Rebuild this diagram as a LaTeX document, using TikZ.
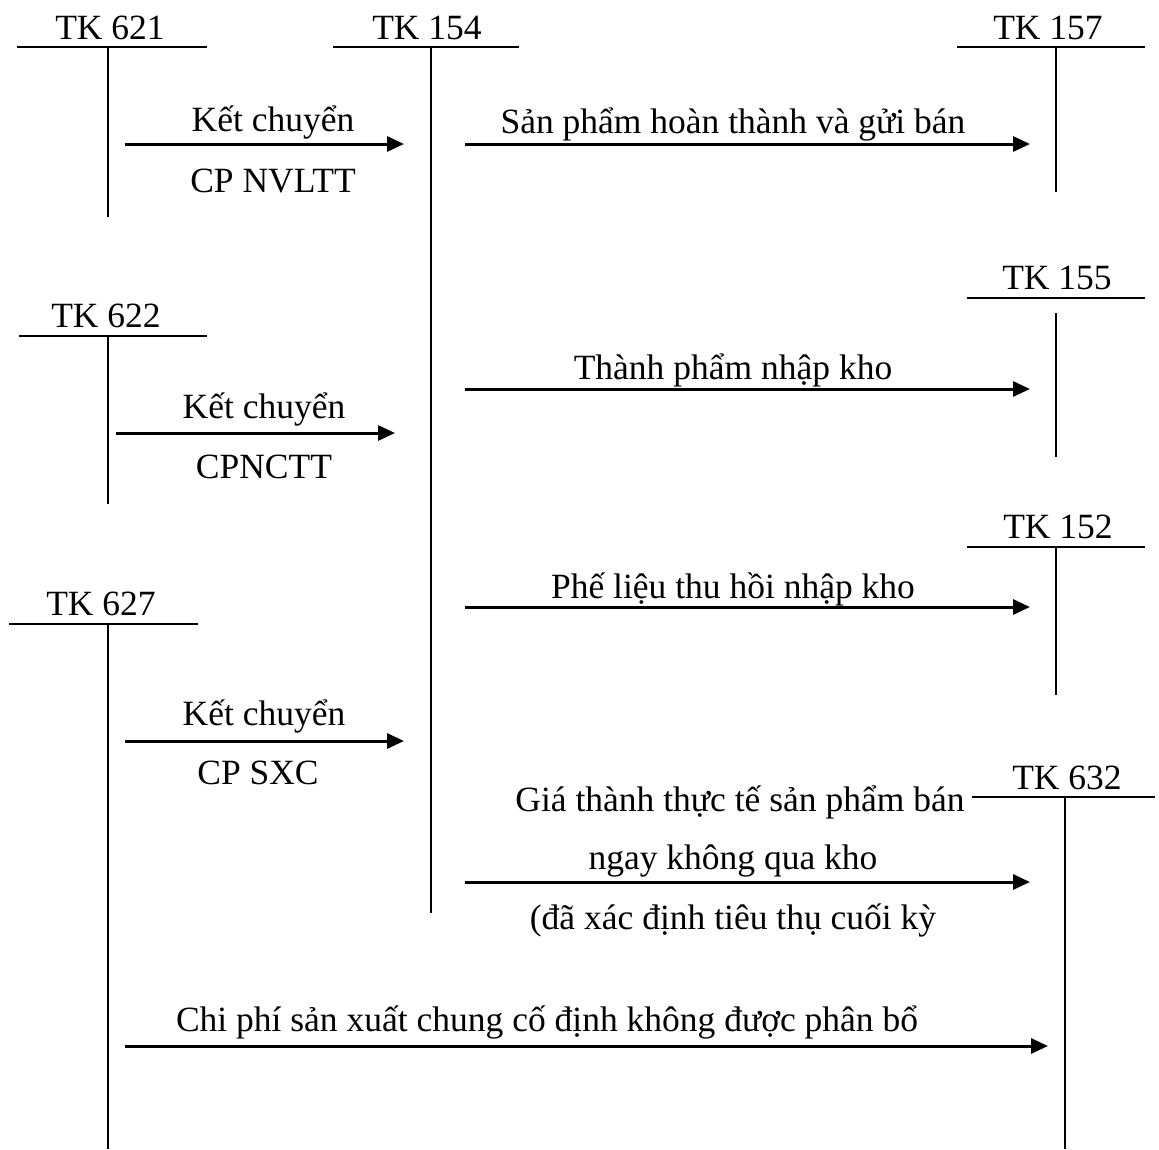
\documentclass[tikz,border=0pt]{standalone}
\usepackage{fontspec}
\setmainfont{Liberation Serif}
\usepackage{tikz}
\usetikzlibrary{arrows.meta,positioning}

\begin{document}
\begin{tikzpicture}[x=1pt,y=-1pt,>={Triangle[length=17pt,width=15pt]},
  every node/.style={font=\fontsize{35.5}{40}\selectfont,inner sep=0pt,anchor=base},
  tline/.style={line width=2pt},
  flow/.style={->,line width=3pt}]
\useasboundingbox (0,0) rectangle (1159,1149);
\node (tk621) at (110,39) {TK 621};
\draw[tline] (17,47) -- (207,47) (108,47) -- (108,217);
\node (tk154) at (427,39) {TK 154};
\draw[tline] (333,47) -- (519,47) (431,47) -- (431,913);
\node (tk157) at (1048,39) {TK 157};
\draw[tline] (957,47) -- (1145,47) (1056,47) -- (1056,192);
\node (tk155) at (1057,289) {TK 155};
\draw[tline] (967,298) -- (1145,298) (1056,313) -- (1056,457);
\node (tk622) at (106,327) {TK 622};
\draw[tline] (19,336) -- (207,336) (108,336) -- (108,504);
\node (tk152) at (1058,538) {TK 152};
\draw[tline] (967,547) -- (1145,547) (1056,547) -- (1056,695);
\node (tk627) at (101,615) {TK 627};
\draw[tline] (9,624) -- (198,624) (108,624) -- (108,1149);
\node (tk632) at (1067,789) {TK 632};
\draw[tline] (972,797) -- (1155,797) (1065,797) -- (1065,1149);

\coordinate (a621) at (125,144);
\coordinate (b621) at (404,144);
\draw[flow] (a621) -- (b621);
\node (kc1) at (273,131) {Kết chuyển};
\node (nvl) at (273,192) {CP NVLTT};

\coordinate (a157) at (465,144);
\coordinate (b157) at (1030,144);
\draw[flow] (a157) -- (b157);
\node (gui) at (733,133) {Sản phẩm hoàn thành và gửi bán};

\coordinate (a155) at (465,389);
\coordinate (b155) at (1030,389);
\draw[flow] (a155) -- (b155);
\node (nhap) at (733,379) {Thành phẩm nhập kho};

\coordinate (a622) at (116,433);
\coordinate (b622) at (395,433);
\draw[flow] (a622) -- (b622);
\node (kc2) at (264,418) {Kết chuyển};
\node (nct) at (264,478) {CPNCTT};

\coordinate (a152) at (465,607);
\coordinate (b152) at (1030,607);
\draw[flow] (a152) -- (b152);
\node (phe) at (733,598) {Phế liệu thu hồi nhập kho};

\coordinate (a627) at (125,741);
\coordinate (b627) at (404,741);
\draw[flow] (a627) -- (b627);
\node (kc3) at (264,725) {Kết chuyển};
\node (sxc) at (258,784) {CP SXC};

\coordinate (a632) at (465,882);
\coordinate (b632) at (1030,882);
\draw[flow] (a632) -- (b632);
\node (gia) at (740,811) {Giá thành thực tế sản phẩm bán};
\node (ngay) at (733,869) {ngay không qua kho};
\node (tieu) at (733,929) {(đã xác định tiêu thụ cuối kỳ};

\coordinate (c627) at (125,1046);
\coordinate (c632) at (1048,1046);
\draw[flow] (c627) -- (c632);
\node (chung) at (547,1031) {Chi phí sản xuất chung cố định không được phân bổ};
\end{tikzpicture}
\end{document}
